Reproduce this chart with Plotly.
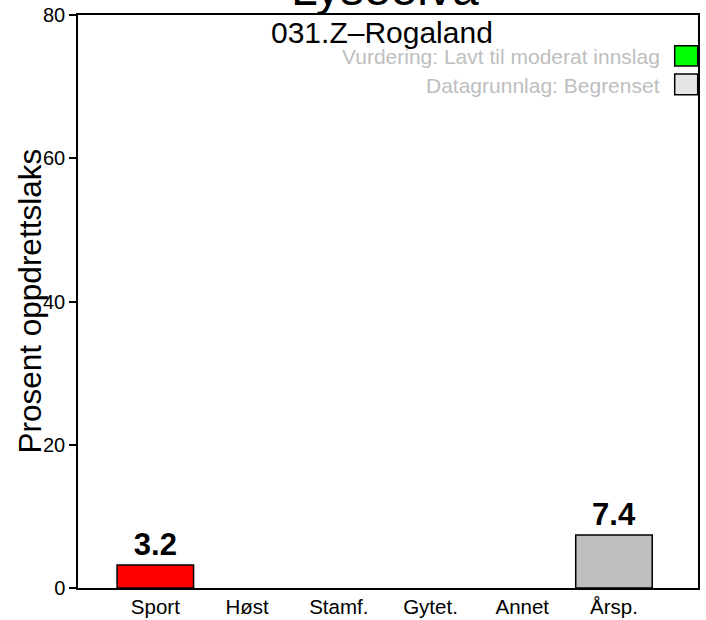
import plotly.graph_objects as go

# Fangstkategorier og andel oppdrettslaks (%)
categories = ["Sport", "Høst", "Stamf.", "Gytet.", "Annet", "Årsp."]
values = [3.2, None, None, None, None, 7.4]
bar_colors = ["#ff0000", "#bebebe", "#bebebe", "#bebebe", "#bebebe", "#bebebe"]
y_ticks = [0, 20, 40, 60, 80]

river = "Lyseelva"
region = "031.Z\u2013Rogaland"
assessment = "Vurdering: Lavt til moderat innslag"
data_basis = "Datagrunnlag: Begrenset"

W, H = 706, 620
L, R, T, B = 78, 8, 15, 32
plot_w = W - L - R
plot_h = H - T - B


def px_x(px):
    return (px - L) / plot_w


def px_y(py):
    return (H - B - py) / plot_h


FONT = "Liberation Sans, Arial, Helvetica, sans-serif"
x_pos = list(range(len(categories)))

fig = go.Figure()
fig.add_trace(go.Bar(
    x=x_pos,
    y=values,
    width=0.834,
    marker=dict(color=bar_colors, line=dict(color="black", width=1.5)),
    text=[None if v is None else f"<b>{v:.1f}</b>" for v in values],
    textposition="outside",
    outsidetextfont=dict(family=FONT, size=31, color="black"),
    cliponaxis=False,
    hoverinfo="skip",
))

fig.update_layout(
    width=W, height=H,
    margin=dict(l=L, r=R, t=T, b=B, pad=0, autoexpand=False),
    paper_bgcolor="white",
    plot_bgcolor="white",
    showlegend=False,
    font=dict(family=FONT, size=20, color="black"),
    xaxis=dict(
        range=[-0.843, 5.916],
        tickvals=x_pos,
        ticktext=categories,
        ticks="",
        showgrid=False,
        zeroline=False,
        showline=True,
        mirror=True,
        linecolor="black",
        linewidth=1.5,
        automargin=False,
        tickfont=dict(family=FONT, size=20.5, color="black"),
        fixedrange=True,
    ),
    yaxis=dict(
        range=[0, 80],
        tickvals=y_ticks,
        ticks="outside",
        ticklen=7,
        tickwidth=1.5,
        tickcolor="black",
        showgrid=False,
        zeroline=False,
        showline=True,
        mirror=True,
        linecolor="black",
        linewidth=1.5,
        automargin=False,
        tickfont=dict(family=FONT, size=20, color="black"),
        fixedrange=True,
    ),
)

# Legend boxes at the top right, clipped by the plot frame
fig.add_shape(type="rect", xref="paper", yref="paper",
              x0=px_x(674.7), x1=px_x(697.7), y0=px_y(66), y1=px_y(45.7),
              fillcolor="#00ff00", line=dict(color="black", width=1.5), layer="above")
fig.add_shape(type="rect", xref="paper", yref="paper",
              x0=px_x(674.7), x1=px_x(697.7), y0=px_y(94.7), y1=px_y(74),
              fillcolor="#e5e5e5", line=dict(color="black", width=1.5), layer="above")

annotations = [
    # Title, partly above the top edge of the page
    dict(text=river, x=px_x(385), y=px_y(-11), xref="paper", yref="paper",
         xanchor="center", yanchor="middle", showarrow=False,
         font=dict(family=FONT, size=48, color="black")),
    dict(text=region, x=px_x(382), y=px_y(32), xref="paper", yref="paper",
         xanchor="center", yanchor="middle", showarrow=False,
         font=dict(family=FONT, size=30, color="black")),
    dict(text=assessment, x=px_x(662), y=px_y(57), xref="paper", yref="paper",
         xanchor="right", yanchor="middle", showarrow=False,
         font=dict(family=FONT, size=21, color="#bebebe")),
    dict(text=data_basis, x=px_x(662), y=px_y(85), xref="paper", yref="paper",
         xanchor="right", yanchor="middle", showarrow=False,
         font=dict(family=FONT, size=21, color="#bebebe")),
    # Y-axis title
    dict(text="Prosent oppdrettslaks", x=px_x(29), y=0.5, xref="paper", yref="paper",
         xanchor="center", yanchor="middle", textangle=-90, showarrow=False,
         font=dict(family=FONT, size=31.5, color="black")),
]
fig.update_layout(annotations=annotations)

fig.write_html("out.html")
